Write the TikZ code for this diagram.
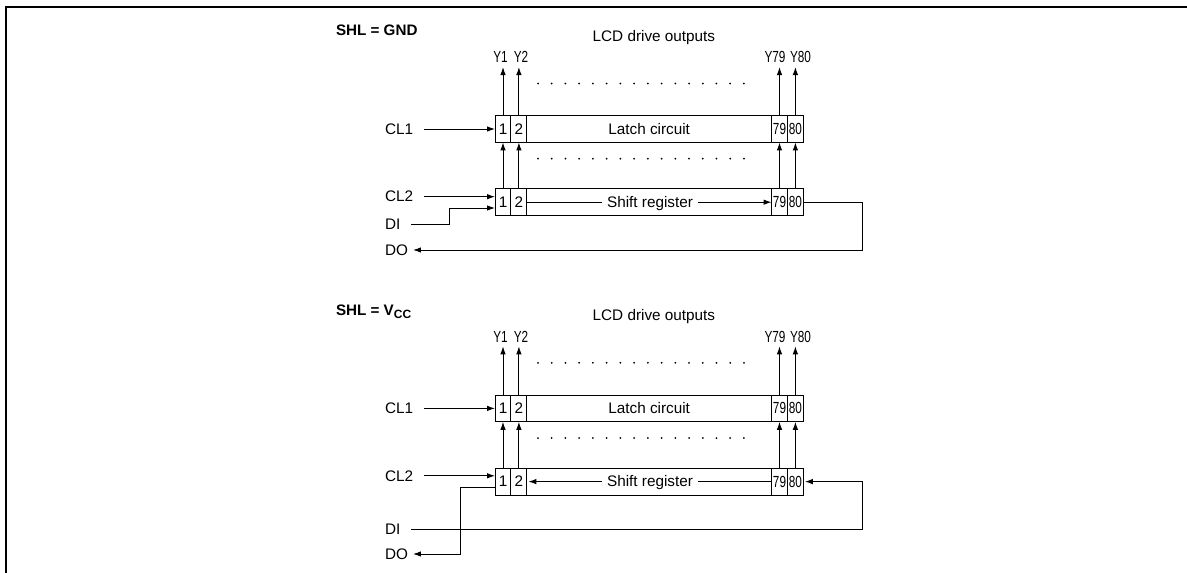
\documentclass[tikz,border=0pt]{standalone}
\usepackage{fontspec}
\setmainfont{Liberation Sans}
\usetikzlibrary{arrows.meta}
\newcommand{\narrowtxt}[1]{\scalebox{0.77}[1.05]{#1}}
\tikzset{
  cell/.style={draw, minimum width=15.9pt, minimum height=26.8pt, inner sep=0pt, outer sep=0pt, line width=1pt},
  body/.style={draw, minimum width=244.7pt, minimum height=26.8pt, inner sep=0pt, outer sep=0pt, line width=1pt},
  txt/.style={inner sep=0pt, outer sep=0pt},
  pin/.style={txt, anchor=west},
  sig/.style={line width=1pt},
  arr/.style={sig, -{Latex[length=8pt,width=5.5pt]}},
  dots/.style={line width=2pt, line cap=round, dash pattern=on 0pt off 13.73pt},
  frame/.style={line width=2pt}
}
\begin{document}
\begin{tikzpicture}[x=1pt, y=-1pt, every node/.style={font=\fontsize{15.3}{18}\selectfont}]
\useasboundingbox (0,0) rectangle (1187,573);
\draw [frame] (5.7,573) -- (5.7,6.7) -- (1187,6.7);
% SHL = GND
\node [txt, anchor=base west, font=\fontsize{15.2}{18}\selectfont\bfseries] (shla) at (336,35.2) {SHL = GND};
\node [txt] (lcda) at (653.9,37.2) {LCD drive outputs};
\node [txt] (y1a) at (500.5,57.3) {\narrowtxt{Y1}};
\node [txt] (y2a) at (521,57.3) {\narrowtxt{Y2}};
\node [txt] (y79a) at (775,57.3) {\narrowtxt{Y79}};
\node [txt] (y80a) at (800.5,57.3) {\narrowtxt{Y80}};
\coordinate (t1a) at (503,67);
\coordinate (t2a) at (518.9,67);
\coordinate (t79a) at (779.5,67);
\coordinate (t80a) at (795.4,67);
\node [cell] (lc1a) at (503,129) {1};
\node [cell] (lc2a) at (518.9,129) {2};
\node [body] (lca) at (649.2,129) {Latch circuit};
\node [cell] (lc79a) at (779.5,129) {\narrowtxt{79}};
\node [cell] (lc80a) at (795.4,129) {\narrowtxt{80}};
\node [cell] (sr1a) at (503,202.2) {1};
\node [cell] (sr2a) at (518.9,202.2) {2};
\node [body] (sra) at (649.2,202.2) {};
\node [txt, inner xsep=5pt] (srta) at (650,203.2) {Shift register};
\node [cell] (sr79a) at (779.5,202.2) {\narrowtxt{79}};
\node [cell] (sr80a) at (795.4,202.2) {\narrowtxt{80}};
\node [pin] (cl1a) at (385,129) {CL1};
\node [pin] (cl2a) at (385,196.7) {CL2};
\node [pin] (dia) at (385,224.5) {DI};
\node [pin] (doa) at (385,250) {DO};
\coordinate (dibenda) at (449.7,208);
\coordinate (loopa) at (862.7,250);
\draw [arr] (lc1a.north) -- (t1a);
\draw [arr] (lc2a.north) -- (t2a);
\draw [arr] (lc79a.north) -- (t79a);
\draw [arr] (lc80a.north) -- (t80a);
\draw [dots] (538,83.5) -- (745,83.5);
\draw [dots] (538,158.7) -- (745,158.7);
\draw [arr] (sr1a.north) -- (lc1a.south);
\draw [arr] (sr2a.north) -- (lc2a.south);
\draw [arr] (sr79a.north) -- (lc79a.south);
\draw [arr] (sr80a.north) -- (lc80a.south);
\draw [arr] ([xshift=11pt]cl1a.east) -- (lc1a.west);
\draw [arr] ([xshift=11pt]cl2a.east) -- (cl2a.east -| sr1a.west);
\draw [arr] ([xshift=11pt]dia.east) -| (dibenda) -- (dibenda -| sr1a.west);
\draw [sig] (sr2a.east) -- (sr2a.east -| srta.west);
\draw [arr] (sr79a.west -| srta.east) -- (sr79a.west);
\draw [arr] (sr80a.east) -| (loopa) -- ([xshift=5pt]doa.east);
% SHL = VCC
\node [txt, anchor=base west, font=\fontsize{15.2}{18}\selectfont\bfseries] (shlb) at (336,315) {SHL = V\raisebox{-3.5pt}{\fontsize{12}{12}\selectfont CC}};
\node [txt] (lcdb) at (653.9,316.5) {LCD drive outputs};
\node [txt] (y1b) at (500.5,336.6) {\narrowtxt{Y1}};
\node [txt] (y2b) at (521,336.6) {\narrowtxt{Y2}};
\node [txt] (y79b) at (775,336.6) {\narrowtxt{Y79}};
\node [txt] (y80b) at (800.5,336.6) {\narrowtxt{Y80}};
\coordinate (t1b) at (503,346.3);
\coordinate (t2b) at (518.9,346.3);
\coordinate (t79b) at (779.5,346.3);
\coordinate (t80b) at (795.4,346.3);
\node [cell] (lc1b) at (503,408.4) {1};
\node [cell] (lc2b) at (518.9,408.4) {2};
\node [body] (lcb) at (649.2,408.4) {Latch circuit};
\node [cell] (lc79b) at (779.5,408.4) {\narrowtxt{79}};
\node [cell] (lc80b) at (795.4,408.4) {\narrowtxt{80}};
\node [cell] (sr1b) at (503,481.6) {1};
\node [cell] (sr2b) at (518.9,481.6) {2};
\node [body] (srb) at (649.2,481.6) {};
\node [txt, inner xsep=5pt] (srtb) at (650,482.6) {Shift register};
\node [cell] (sr79b) at (779.5,481.6) {\narrowtxt{79}};
\node [cell] (sr80b) at (795.4,481.6) {\narrowtxt{80}};
\node [pin] (cl1b) at (385,408.4) {CL1};
\node [pin] (cl2b) at (385,475.8) {CL2};
\node [pin] (dib) at (385,529) {DI};
\node [pin] (dob) at (385,554) {DO};
\coordinate (dooutb) at (460.3,487.3);
\coordinate (loopb) at (862.7,529);
\draw [arr] (lc1b.north) -- (t1b);
\draw [arr] (lc2b.north) -- (t2b);
\draw [arr] (lc79b.north) -- (t79b);
\draw [arr] (lc80b.north) -- (t80b);
\draw [dots] (538,362.8) -- (745,362.8);
\draw [dots] (538,438) -- (745,438);
\draw [arr] (sr1b.north) -- (lc1b.south);
\draw [arr] (sr2b.north) -- (lc2b.south);
\draw [arr] (sr79b.north) -- (lc79b.south);
\draw [arr] (sr80b.north) -- (lc80b.south);
\draw [arr] ([xshift=11pt]cl1b.east) -- (lc1b.west);
\draw [arr] ([xshift=11pt]cl2b.east) -- (cl2b.east -| sr1b.west);
\draw [arr] (dooutb -| sr1b.west) -- (dooutb) |- ([xshift=5pt]dob.east);
\draw [arr, shorten >=1.5pt] ([xshift=11pt]dib.east) -- (loopb) |- (sr80b.east);
\draw [sig] (sr79b.west) -- (sr79b.west -| srtb.east);
\draw [arr, shorten >=1.5pt] (sr2b.east -| srtb.west) -- (sr2b.east);
\end{tikzpicture}
\end{document}
